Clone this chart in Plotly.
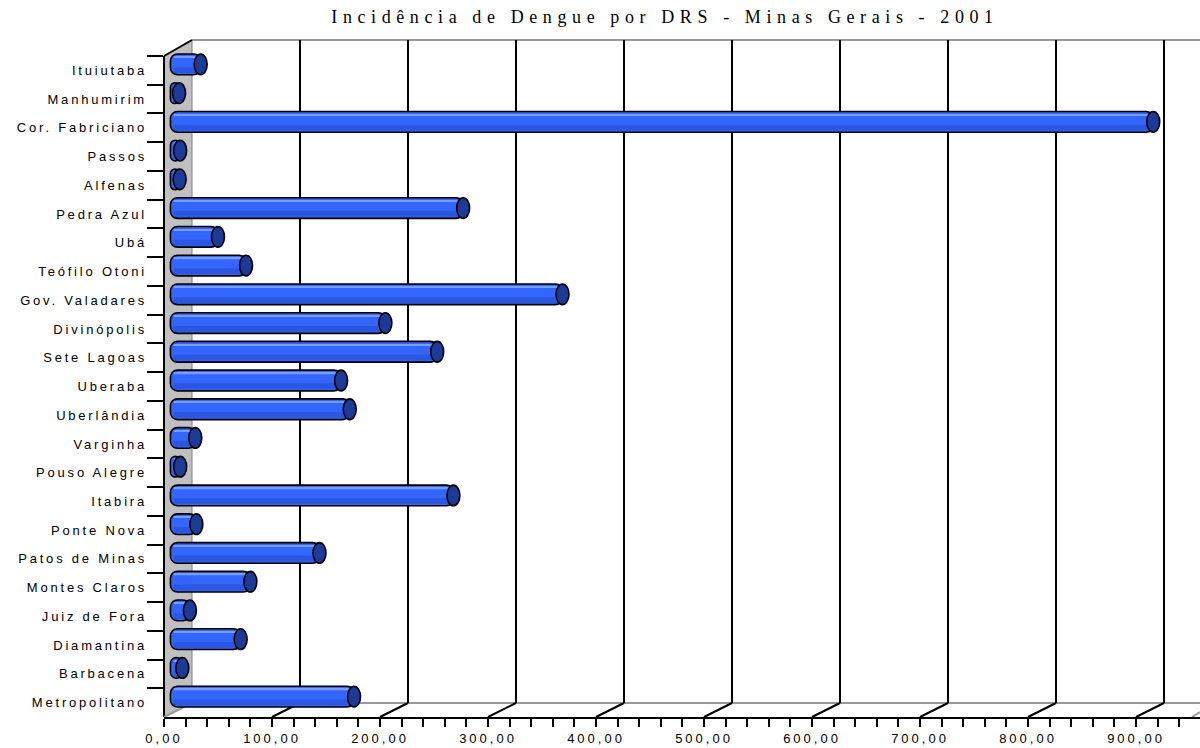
import plotly.graph_objects as go

# ---------------- data ----------------
categories = ["Ituiutaba", "Manhumirim", "Cor. Fabriciano", "Passos", "Alfenas",
              "Pedra Azul", "Ubá", "Teófilo Otoni", "Gov. Valadares", "Divinópolis",
              "Sete Lagoas", "Uberaba", "Uberlândia", "Varginha", "Pouso Alegre",
              "Itabira", "Ponte Nova", "Patos de Minas", "Montes Claros", "Juiz de Fora",
              "Diamantina", "Barbacena", "Metropolitano"]
incidence = [21, 1, 903, 2, 1.5, 264, 37, 63, 356, 192, 240, 151, 159, 16, 2,
             255, 17, 131, 67, 11, 58, 4, 163]
x_ticks = [0, 100, 200, 300, 400, 500, 600, 700, 800, 900]
x_tick_labels = ["0,00", "100,00", "200,00", "300,00", "400,00", "500,00",
                 "600,00", "700,00", "800,00", "900,00"]
title_text = "Incidência de Dengue por DRS - Minas Gerais - 2001"

# ---------------- geometry (pixel frame) ----------------
W, H = 1200, 748
L, R, T, B = 164, 1200, 40, 717          # plot box
FRONT_TOP = 56                           # top of front edge of side wall
DX, DY = 28, 14                          # depth offset of back wall
PPU = 1.08                               # pixels per unit
n = len(categories)
band = (B - FRONT_TOP) / n
pw, ph = R - L, B - T

def pxx(p):
    return (p - L) / pw

def pxy(p):
    return (B - p) / ph

lab_range = [n - 0.5, -0.5 - (FRONT_TOP - T) / band]
bar_shift_y = 6 / band
bar_range_y = [lab_range[0] + bar_shift_y, lab_range[1] + bar_shift_y]
bar_range_x = [-(DX / 2) / PPU, (pw - DX / 2) / PPU]
front_range_x = [0, pw / PPU]
back_range_x = [-DX / PPU, (pw - DX) / PPU]

START = 7  # body starts slightly left of zero (rounded end)
BLUE = "#3366ff"
NAVY = "#1d3a96"
BAR_W = 0.72
CAP_HALF = 6.0

fig = go.Figure()

# invisible trace so the back-wall grid subplot is drawn
fig.add_trace(go.Scatter(x=[x_ticks[0]], y=[0], mode="markers", xaxis="x", yaxis="y",
                         marker=dict(opacity=0, size=1), hoverinfo="skip", showlegend=False))

# bar body (drawn from the value end back to the start -> rounded left end)
fig.add_trace(go.Bar(
    y=categories, base=incidence, x=[-(v + START) for v in incidence],
    orientation="h", width=BAR_W, xaxis="x2", yaxis="y2",
    marker=dict(color=BLUE, line=dict(color="black", width=1.6), cornerradius=7),
    hoverinfo="skip", showlegend=False))
# shading stripes
fig.add_trace(go.Bar(
    y=categories, base=incidence, x=[-(v + START - 3) for v in incidence],
    orientation="h", width=0.05, offset=-0.27, xaxis="x2", yaxis="y2",
    marker=dict(color="#7a9dff", line=dict(width=0)),
    hoverinfo="skip", showlegend=False))
fig.add_trace(go.Bar(
    y=categories, base=incidence, x=[-(v + START - 3) for v in incidence],
    orientation="h", width=0.2, offset=0.1, xaxis="x2", yaxis="y2",
    marker=dict(color="#2b56e0", line=dict(width=0)),
    hoverinfo="skip", showlegend=False))

# invisible trace carrying the category labels on the front axis
fig.add_trace(go.Scatter(
    x=[0] * n, y=categories, mode="markers", xaxis="x3", yaxis="y3",
    marker=dict(opacity=0, size=1), hoverinfo="skip", showlegend=False))

# ---------------- end caps of the cylinders (on the bar axes) ----------------
shapes = []
for i, v in enumerate(incidence):
    shapes.append(dict(type="circle", xref="x2", yref="y2", layer="above",
                       x0=v - CAP_HALF, x1=v + CAP_HALF,
                       y0=i - BAR_W / 2, y1=i + BAR_W / 2,
                       fillcolor=NAVY, line=dict(color="black", width=1.6)))

# ---------------- decorations (walls / floor) ----------------
shapes.append(dict(
    type="path", xref="paper", yref="paper", layer="below",
    path=(f"M {pxx(L)},{pxy(FRONT_TOP)} L {pxx(L+DX)},{pxy(T)} "
          f"L {pxx(L+DX)},{pxy(B-DY)} L {pxx(L)},{pxy(B)} Z"),
    fillcolor="#c0c0c0", line=dict(color="#808080", width=1)))
for yy in (T, B - DY):
    shapes.append(dict(type="line", xref="paper", yref="paper", layer="below",
                       x0=pxx(L + DX), x1=pxx(R), y0=pxy(yy), y1=pxy(yy),
                       line=dict(color="#999999", width=2)))
shapes.append(dict(type="line", xref="paper", yref="paper", layer="below",
                   x0=pxx(L), x1=pxx(L), y0=pxy(FRONT_TOP), y1=pxy(B),
                   line=dict(color="black", width=2)))
shapes.append(dict(type="line", xref="paper", yref="paper", layer="below",
                   x0=pxx(L), x1=pxx(L + DX), y0=pxy(FRONT_TOP), y1=pxy(T),
                   line=dict(color="black", width=2)))
for i, t in enumerate(x_ticks):
    x0 = L + t * PPU
    shapes.append(dict(type="line", xref="paper", yref="paper", layer="below",
                       x0=pxx(x0), x1=pxx(x0 + DX), y0=pxy(B), y1=pxy(B - DY),
                       line=dict(color="#999999" if i == 0 else "black", width=2)))
shapes.append(dict(type="line", xref="paper", yref="paper", layer="below",
                   x0=pxx(R - 8), x1=pxx(R), y0=pxy(B), y1=pxy(B - 5),
                   line=dict(color="#999999", width=2)))

fig.update_layout(
    width=W, height=H,
    margin=dict(l=L, r=W - R, t=T, b=H - B, pad=0, autoexpand=False),
    paper_bgcolor="white", plot_bgcolor="rgba(0,0,0,0)",
    barmode="overlay", showlegend=False,
    font=dict(family="Liberation Sans, Arial", size=13, color="black"),
    title=dict(text=title_text, xref="container", yref="container",
               x=665 / W, y=1 - 17 / H, xanchor="center", yanchor="middle",
               font=dict(family="Liberation Serif, Times New Roman", size=18, color="black")),
    # back wall grid
    xaxis=dict(range=back_range_x, anchor="y", showgrid=True, gridcolor="black",
               gridwidth=2, tickvals=x_ticks[1:], showticklabels=False, ticks="",
               showline=False, zeroline=False, fixedrange=True),
    yaxis=dict(domain=[DY / ph, 1], range=[0, 1], anchor="x", visible=False,
               showgrid=False, zeroline=False, fixedrange=True),
    # bars
    xaxis2=dict(range=bar_range_x, anchor="y2", visible=False, showgrid=False,
                zeroline=False, fixedrange=True),
    yaxis2=dict(domain=[0, 1], range=bar_range_y, anchor="x2", type="category",
                categoryorder="array", categoryarray=categories,
                visible=False, showgrid=False, fixedrange=True),
    # front axes with labels
    xaxis3=dict(range=front_range_x, overlaying="x2", anchor="y3", side="bottom",
                showgrid=False, zeroline=False, showline=True, linecolor="black",
                linewidth=2, ticks="outside", ticklen=8, tickwidth=2, tickcolor="black",
                tickvals=x_ticks, ticktext=x_tick_labels,
                minor=dict(dtick=20, tick0=0, ticks="outside", ticklen=8,
                           tickwidth=2, tickcolor="black", showgrid=False),
                tickfont=dict(size=13), fixedrange=True),
    yaxis3=dict(range=lab_range, overlaying="y2", anchor="x3", side="left",
                type="category", categoryorder="array", categoryarray=categories,
                showgrid=False, zeroline=False, showline=False,
                ticks="outside", ticklen=16, tickwidth=2, tickcolor="black",
                tickson="boundaries", ticklabelstandoff=16,
                tickfont=dict(size=13), fixedrange=True),
    shapes=shapes,
)

post_js = """
document.body.style.margin = '0';
document.body.style.padding = '0';
var gd = document.getElementById('{plot_id}');
function spaceOut(){
  gd.querySelectorAll('.gtitle').forEach(function(t){ t.style.letterSpacing = '5.6px'; });
  gd.querySelectorAll('g.y3tick text').forEach(function(t){ t.style.letterSpacing = '2.8px'; });
  gd.querySelectorAll('g.x3tick text').forEach(function(t){ t.style.letterSpacing = '3px'; });
}
spaceOut();
if (gd.on) { gd.on('plotly_afterplot', spaceOut); }
"""

fig.write_html("out.html", post_script=post_js, config={"displayModeBar": False})
